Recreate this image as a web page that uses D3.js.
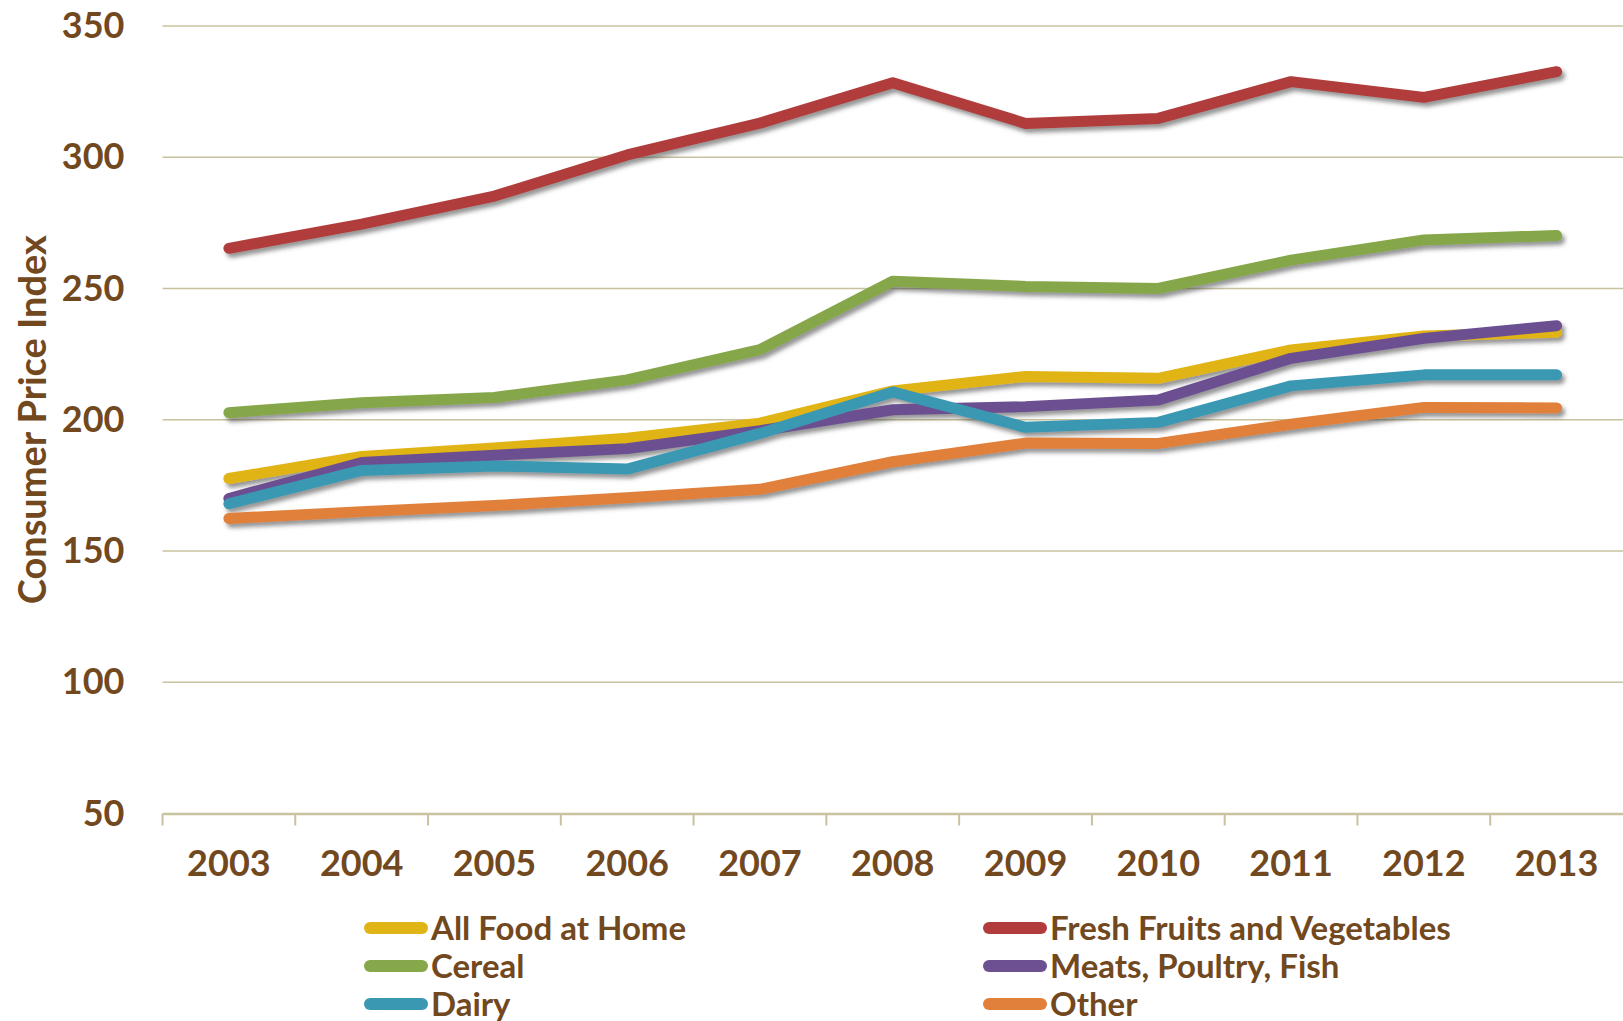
<!DOCTYPE html>
<html>
<head>
<meta charset="utf-8">
<script src="https://cdn.jsdelivr.net/npm/d3@7"></script>
<style>
  html, body { margin: 0; padding: 0; background: #fff; }
  svg { display: block; }
  text { font-family: Lato, "Open Sans", sans-serif; font-weight: 700; fill: #72481e; }
</style>
</head>
<body>
<svg></svg>
<script>
const width = 1623;
const height = 1021;
const margin = { left: 162.5, right: 0, top: 26, bottom: 207.5 };

// Data
const years = ["2003", "2004", "2005", "2006", "2007", "2008", "2009", "2010", "2011", "2012", "2013"];
const yTicks = [50, 100, 150, 200, 250, 300, 350];
const seriesNames = ["All Food at Home", "Fresh Fruits and Vegetables", "Cereal", "Meats, Poultry, Fish", "Dairy", "Other"];
const seriesColors = ["#e1b416", "#b03d3b", "#86a74a", "#6c5091", "#3a98b3", "#e0803a"];
const allFood = [177.6, 186.0, 189.2, 193.0, 198.7, 211.0, 216.5, 215.8, 226.6, 231.9, 233.3];
const freshFruitsVeg = [265.3, 274.5, 285.2, 300.9, 313.0, 328.4, 312.9, 314.8, 328.8, 322.8, 332.6];
const cereal = [202.7, 206.5, 208.5, 215.2, 226.7, 252.8, 250.8, 250.0, 260.8, 268.5, 270.2];
const meats = [170.0, 183.7, 186.5, 189.0, 195.8, 203.8, 205.0, 207.5, 223.4, 231.0, 235.8];
const dairy = [168.0, 180.7, 182.4, 181.2, 194.8, 210.6, 197.1, 199.0, 212.9, 217.1, 217.1];
const other = [162.4, 165.0, 167.3, 170.3, 173.5, 184.0, 191.1, 191.0, 198.3, 204.7, 204.5];
const seriesValues = [allFood, freshFruitsVeg, cereal, meats, dairy, other];

const series = seriesNames.map((name, i) => ({ name, color: seriesColors[i], values: seriesValues[i] }));

const svg = d3.select("svg").attr("width", width).attr("height", height);

// drop shadow for the lines
const defs = svg.append("defs");
const shadow = defs.append("filter").attr("id", "shadow")
  .attr("x", "-5%").attr("y", "-20%").attr("width", "110%").attr("height", "140%");
shadow.append("feDropShadow")
  .attr("dx", 3).attr("dy", 4).attr("stdDeviation", 2)
  .attr("flood-color", "#404040").attr("flood-opacity", 0.55);

const x = d3.scaleBand().domain(years).range([margin.left, width - margin.right]);
const y = d3.scaleLinear().domain([50, 350]).range([height - margin.bottom, margin.top]);

const gridColor = "#c8c39e";

// grid lines
svg.append("g")
  .selectAll("line")
  .data(yTicks.filter(d => d !== 50))
  .join("line")
  .attr("x1", margin.left)
  .attr("x2", width - margin.right)
  .attr("y1", d => y(d))
  .attr("y2", d => y(d))
  .attr("stroke", gridColor)
  .attr("stroke-width", 1.6);

// y axis labels
const yAxis = d3.axisLeft(y).tickValues(yTicks).tickSize(0).tickPadding(38);
const gy = svg.append("g").attr("transform", `translate(${margin.left},0)`).call(yAxis);
gy.select(".domain").remove();
gy.selectAll("text")
  .style("font-family", "Lato, sans-serif")
  .style("font-weight", 700)
  .style("font-size", "36px")
  .attr("fill", "#72481e");

// x axis
const xAxis = d3.axisBottom(x).tickSize(0).tickPadding(37);
const gx = svg.append("g").attr("transform", `translate(0,${y(50)})`).call(xAxis);
gx.select(".domain").attr("stroke", gridColor).attr("stroke-width", 2.5);
gx.selectAll("text")
  .style("font-family", "Lato, sans-serif")
  .style("font-weight", 700)
  .style("font-size", "36px")
  .attr("fill", "#72481e");

// tick marks at category boundaries
svg.append("g")
  .selectAll("line")
  .data(years)
  .join("line")
  .attr("x1", d => x(d))
  .attr("x2", d => x(d))
  .attr("y1", y(50))
  .attr("y2", y(50) + 12)
  .attr("stroke", gridColor)
  .attr("stroke-width", 2);

// y axis title
svg.append("text")
  .attr("transform", `translate(46, ${y(200)}) rotate(-90)`)
  .attr("text-anchor", "middle")
  .style("font-size", "38px")
  .text("Consumer Price Index");

// lines
const line = d3.line()
  .x((d, i) => x(years[i]) + x.bandwidth() / 2)
  .y(d => y(d));

svg.append("g")
  .attr("filter", "url(#shadow)")
  .selectAll("path")
  .data(series)
  .join("path")
  .attr("fill", "none")
  .attr("stroke", d => d.color)
  .attr("stroke-width", 11)
  .attr("stroke-linecap", "round")
  .attr("stroke-linejoin", "round")
  .attr("d", d => line(d.values));

// legend: 2 columns, 3 rows
const legendCols = [364, 983];
const legendRows = [928, 966, 1004];
const legend = svg.append("g")
  .selectAll("g")
  .data(series)
  .join("g")
  .attr("transform", (d, i) => `translate(${legendCols[i % 2]},${legendRows[Math.floor(i / 2)]})`);

legend.append("line")
  .attr("x1", 6).attr("x2", 58)
  .attr("y1", 0).attr("y2", 0)
  .attr("stroke", d => d.color)
  .attr("stroke-width", 12)
  .attr("stroke-linecap", "round");

legend.append("text")
  .attr("x", 67)
  .attr("dy", "0.36em")
  .style("font-size", "33px")
  .text(d => d.name);
</script>
</body>
</html>
